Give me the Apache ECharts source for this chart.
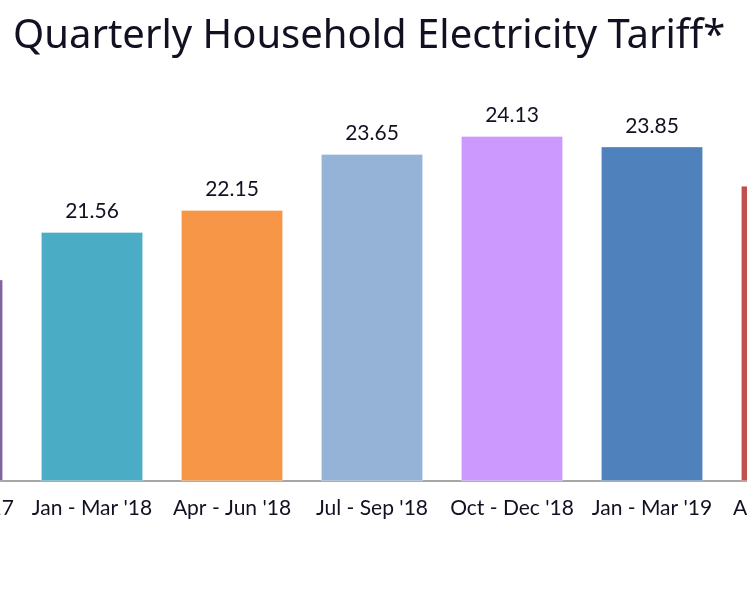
<!DOCTYPE html>
<html lang="en">
<head>
<meta charset="UTF-8">
<title>Quarterly Household Electricity Tariff</title>
<script src="https://cdn.jsdelivr.net/npm/echarts@6/dist/echarts.min.js"></script>
<style>
  html, body { margin: 0; padding: 0; background: #fff; overflow: hidden; width: 747px; height: 598px; }
  /* the source is a crop: the chart is wider than the window and runs off both sides */
  #chart { position: absolute; left: -118px; top: 0; width: 980px; height: 598px; }
</style>
</head>
<body>
<div id="chart"></div>
<script>
// quarters and tariff values
const quarters = [
  "Oct - Dec '17", "Jan - Mar '18", "Apr - Jun '18", "Jul - Sep '18",
  "Oct - Dec '18", "Jan - Mar '19", "Apr - Jun '19"
]
const tariffs = [20.29, 21.56, 22.15, 23.65, 24.13, 23.85, 22.8]
const barColors = ['#8064a2', '#4bacc6', '#f79646', '#95b3d7', '#cc99ff', '#4f81bd', '#c0504d']

const chart = echarts.init(document.getElementById('chart'))

chart.setOption({
  animation: false,
  title: {
    text: 'Quarterly Household Electricity Tariff*',
    left: 126,
    top: 12,
    textStyle: {
      fontFamily: 'Noto Sans',
      fontWeight: 'normal',
      fontSize: 40,
      color: '#111122'
    }
  },
  grid: { left: 0, right: 0, top: 103.5, bottom: 117.3 },
  xAxis: {
    type: 'category',
    data: quarters,
    axisLine: { lineStyle: { color: '#888', width: 1.5 } },
    axisTick: { length: 6, lineStyle: { color: '#888', width: 1.5 } },
    axisLabel: {
      interval: 0,
      margin: 17,
      fontFamily: 'Lato',
      fontSize: 21,
      color: '#111122'
    }
  },
  yAxis: {
    type: 'value',
    min: 14.9,
    max: 25,
    show: false,
    splitLine: { show: false }
  },
  series: [{
    type: 'bar',
    barWidth: '73%',
    data: tariffs.map((v, i) => ({
      value: v,
      itemStyle: { color: barColors[i] }
    })),
    itemStyle: { borderColor: 'rgba(255,255,255,0.35)', borderWidth: 1 },
    label: {
      show: true,
      position: 'top',
      distance: 10,
      fontFamily: 'Lato',
      fontSize: 21,
      color: '#111122',
      formatter: p => p.value.toFixed(2)
    }
  }]
})
</script>
</body>
</html>
